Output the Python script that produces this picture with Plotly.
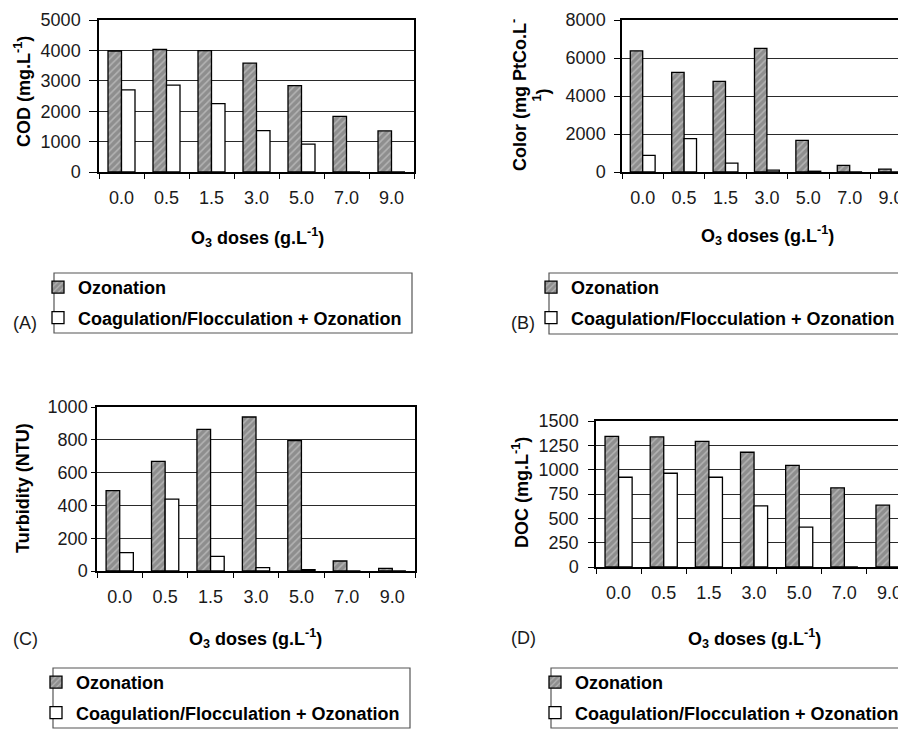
import plotly.graph_objects as go

# ---------------- data ----------------
doses = ["0.0", "0.5", "1.5", "3.0", "5.0", "7.0", "9.0"]
series_names = ["Ozonation", "Coagulation/Flocculation + Ozonation"]

cod_ozon = [3980, 4030, 3990, 3580, 2840, 1830, 1350]
cod_coag = [2700, 2860, 2250, 1360, 920, 0, 0]

color_ozon = [6380, 5240, 4770, 6510, 1660, 350, 150]
color_coag = [870, 1760, 470, 100, 40, 0, 0]

turb_ozon = [490, 669, 864, 939, 795, 61, 16]
turb_coag = [112, 438, 89, 20, 8, 0, 0]

doc_ozon = [1343, 1336, 1291, 1179, 1045, 813, 635]
doc_coag = [922, 963, 922, 629, 410, 0, 0]

y_titles = ["COD (mg.L<sup>-1</sup>)",
            "Color (mg PtCo.L<sup>-</sup><br><sup>1</sup>)",
            "Turbidity (NTU)",
            "DOC (mg.L<sup>-1</sup>)"]
x_title = "O<sub>3</sub> doses (g.L<sup>-1</sup>)"
panel_labels = ["(A)", "(B)", "(C)", "(D)"]
y_ranges = [[0, 5000], [0, 8000], [0, 1000], [0, 1500]]
y_dticks = [1000, 2000, 200, 250]

# ---------------- layout helpers ----------------
# the page body has an 8px margin: the figure is sized to end at the window edge
OFF = 8
W, H = 906 - OFF, 729 - OFF
FONT = "Liberation Sans, Arial, sans-serif"


def xf(px):
    return (px - OFF) / W


def yf(py):
    return 1 - (py - OFF) / H


# plot areas in screen pixels: left, right, top, bottom, x-range end
panels = [
    dict(l=99, r=414, t=20, b=172, xend=6.5, mirror=True, tl=8, so=5),
    dict(l=622, r=906, t=20, b=172, xend=6.36, mirror=False, tl=6, so=5),
    dict(l=97, r=415, t=407, b=571, xend=6.5, mirror=True, tl=4, so=0),
    dict(l=596, r=906, t=421, b=567, xend=6.365, mirror=False, tl=6, so=6),
]
data_sets = [(cod_ozon, cod_coag), (color_ozon, color_coag),
             (turb_ozon, turb_coag), (doc_ozon, doc_coag)]

fig = go.Figure()
layout = dict(width=W, height=H,
              margin=dict(l=0, r=0, t=0, b=0, autoexpand=False),
              paper_bgcolor="white", plot_bgcolor="white",
              barmode="group", bargap=0.4, bargroupgap=0,
              font=dict(family=FONT, color="black"),
              annotations=[], shapes=[])

legend_pos = [(38, 269), (531, 269), (36, 664), (535, 664)]
box_pos = [(54, 273, 412, 333), (549, 273, 912, 334),
           (53, 668, 410, 728), (551, 668, 912, 728)]
ytitle_pos = [(23, 92), (530, 95), (23, 488), (520, 493)]
xtitle_pos = [(257, 237), (767, 235), (256, 638), (754, 638)]
label_pos = [(25, 323), (523, 323), (25, 639), (523, 638)]

for i, (p, (oz, co)) in enumerate(zip(panels, data_sets)):
    n = "" if i == 0 else str(i + 1)
    leg = "legend" + n
    fig.add_trace(go.Bar(
        x=doses, y=oz, name=series_names[0], xaxis="x" + n, yaxis="y" + n,
        legend=leg, legendgroup=f"oz{i}",
        marker=dict(color="#8e8e8e",
                    line=dict(color="black", width=1.3),
                    pattern=dict(shape="/", fillmode="replace",
                                 bgcolor="#8e8e8e", fgcolor="#b4b4b4",
                                 size=5, solidity=0.3)),
    ))
    fig.add_trace(go.Bar(
        x=doses, y=co, name=series_names[1], xaxis="x" + n, yaxis="y" + n,
        legend=leg, legendgroup=f"co{i}",
        marker=dict(color="white", line=dict(color="black", width=1.3)),
    ))
    layout["xaxis" + n] = dict(
        domain=[xf(p["l"]), xf(p["r"])], anchor="y" + n, type="category",
        range=[-0.5, p["xend"]], tickson="boundaries", ticks="outside",
        ticklen=5, tickcolor="black", tickwidth=1.3,
        showline=True, linecolor="black", linewidth=1.5, mirror=True,
        showgrid=False, tickfont=dict(size=18, color="#1a1a1a"),
        ticklabelstandoff=9, ticklabeloverflow="allow",
    )
    layout["yaxis" + n] = dict(
        domain=[yf(p["b"]), yf(p["t"])], anchor="x" + n,
        range=y_ranges[i], dtick=y_dticks[i], ticks="outside",
        ticklen=p["tl"], tickcolor="black", tickwidth=1.3,
        showline=True, linecolor="black", linewidth=1.5, mirror=p["mirror"],
        showgrid=True, gridcolor="#2a2a2a", gridwidth=1,
        zeroline=False, tickfont=dict(size=18, color="#1a1a1a"),
        ticklabelstandoff=p["so"], ticklabeloverflow="allow",
    )
    lx, ly = legend_pos[i]
    layout[leg] = dict(
        x=xf(lx), y=yf(ly), xanchor="left", yanchor="top",
        bgcolor="rgba(0,0,0,0)", borderwidth=0, tracegroupgap=4,
        font=dict(family=FONT, size=18, weight="bold", color="black"),
        itemclick=False, itemdoubleclick=False,
    )
    bx0, by0, bx1, by1 = box_pos[i]
    layout["shapes"].append(dict(
        type="rect", xref="paper", yref="paper",
        x0=xf(bx0), x1=xf(bx1), y0=yf(by1), y1=yf(by0),
        line=dict(color="#555555", width=1.2), fillcolor="rgba(0,0,0,0)",
    ))
    tx, ty = ytitle_pos[i]
    layout["annotations"].append(dict(
        text=y_titles[i], x=xf(tx), y=yf(ty), xref="paper", yref="paper",
        showarrow=False, textangle=-90, xanchor="center", yanchor="middle",
        font=dict(family=FONT, size=18, weight="bold", color="black"),
    ))
    tx, ty = xtitle_pos[i]
    layout["annotations"].append(dict(
        text=x_title, x=xf(tx), y=yf(ty), xref="paper", yref="paper",
        showarrow=False, xanchor="center", yanchor="middle",
        font=dict(family=FONT, size=18, weight="bold", color="black"),
    ))
    tx, ty = label_pos[i]
    layout["annotations"].append(dict(
        text=panel_labels[i], x=xf(tx), y=yf(ty), xref="paper", yref="paper",
        showarrow=False, xanchor="center", yanchor="middle",
        font=dict(family=FONT, size=18, color="#1a1a1a"),
    ))

fig.update_layout(**layout)
fig.write_html("out.html")
